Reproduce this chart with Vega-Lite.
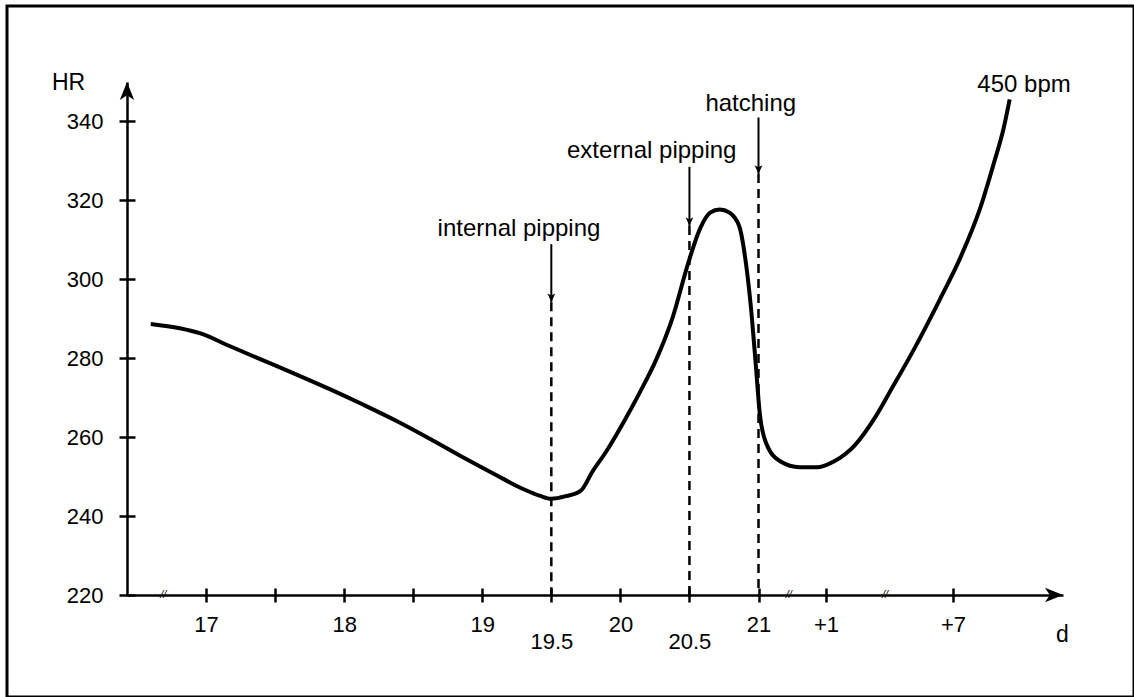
{
  "$schema": "https://vega.github.io/schema/vega-lite/v6.json",
  "width": 1127,
  "height": 691,
  "autosize": {"type": "none"},
  "padding": {"left": 7, "top": 6, "right": 0, "bottom": 0},
  "background": "white",
  "config": {
    "view": {"stroke": "black", "strokeWidth": 3},
    "font": "Liberation Sans",
    "text": {"font": "Liberation Sans", "color": "black"}
  },
  "datasets": {
    "curve": [
      {"day": 16.60, "hr": 288.7}, {"day": 16.81, "hr": 287.6}, {"day": 16.96, "hr": 286.3},
      {"day": 17.17, "hr": 283.1}, {"day": 17.41, "hr": 279.5}, {"day": 17.66, "hr": 275.8},
      {"day": 17.90, "hr": 272.1}, {"day": 18.14, "hr": 268.2}, {"day": 18.38, "hr": 264.1},
      {"day": 18.62, "hr": 259.6}, {"day": 18.86, "hr": 254.9}, {"day": 19.10, "hr": 250.4},
      {"day": 19.30, "hr": 246.8}, {"day": 19.42, "hr": 245.1}, {"day": 19.50, "hr": 244.4},
      {"day": 19.61, "hr": 245.1}, {"day": 19.71, "hr": 246.3}, {"day": 19.80, "hr": 251.4},
      {"day": 19.90, "hr": 256.5}, {"day": 20.02, "hr": 263.6}, {"day": 20.14, "hr": 271.3},
      {"day": 20.26, "hr": 279.7}, {"day": 20.38, "hr": 290.5}, {"day": 20.49, "hr": 304.0},
      {"day": 20.58, "hr": 313.1}, {"day": 20.65, "hr": 316.9}, {"day": 20.72, "hr": 317.7},
      {"day": 20.79, "hr": 316.9}, {"day": 20.86, "hr": 313.5}, {"day": 20.91, "hr": 303.8},
      {"day": 20.95, "hr": 291.1}, {"day": 20.98, "hr": 278.5}, {"day": 21.02, "hr": 265.8},
      {"day": 21.12, "hr": 258.2}, {"day": 21.32, "hr": 253.9}, {"day": 21.61, "hr": 252.4},
      {"day": 21.88, "hr": 252.4}, {"day": 22.43, "hr": 254.0}, {"day": 23.37, "hr": 258.0},
      {"day": 24.32, "hr": 265.0}, {"day": 25.02, "hr": 271.5}, {"day": 26.13, "hr": 282.0},
      {"day": 27.39, "hr": 295.0}, {"day": 28.35, "hr": 305.5}, {"day": 29.29, "hr": 318.1},
      {"day": 29.92, "hr": 329.2}, {"day": 30.40, "hr": 338.4}, {"day": 30.68, "hr": 345.6}
    ],
    "events": [
      {"day": 19.5, "event": "internal pipping", "label_day": 19.266, "label_hr": 312.8, "shaft_top": 308.9, "tip": 294.2},
      {"day": 20.5, "event": "external pipping", "label_day": 20.227, "label_hr": 332.5, "shaft_top": 328.5, "tip": 313.5},
      {"day": 21, "event": "hatching", "label_day": 20.944, "label_hr": 344.4, "shaft_top": 341.0, "tip": 326.7}
    ],
    "breaks": [{"day": 16.69, "hr": 220}, {"day": 21.45, "hr": 220}, {"day": 24.79, "hr": 220}],
    "axisEnds": [{"day": 16.428, "hr": 350, "dir": "up"}, {"day": 33.2, "hr": 220, "dir": "right"}],
    "note": [{"day": 31.36, "hr": 349.3, "text": "450 bpm"}]
  },
  "layer": [
    {
      "data": {"name": "curve"},
      "mark": {"type": "line", "interpolate": "monotone", "color": "black", "strokeWidth": 4, "clip": false},
      "encoding": {
        "x": {
          "field": "day", "type": "quantitative",
          "scale": {"domain": [16.428, 21, 22, 33.2], "range": [120, 751.5, 819, 1056], "zero": false, "nice": false},
          "axis": {
            "values": [17, 17.5, 18, 18.5, 19, 19.5, 20, 20.5, 21, 22, 28],
            "format": ".1~f",
            "labelExpr": "(datum.value == 17.5 || datum.value == 18.5) ? '' : ((datum.value == 19.5 || datum.value == 20.5) ? ['', datum.label] : (datum.value > 21 ? '+' + (datum.value - 21) : datum.label))",
            "offset": -102,
            "grid": false,
            "domainColor": "black", "domainWidth": 2.5,
            "tickColor": "black", "tickWidth": 2.5, "tickSize": 6,
            "labelFontSize": 22, "labelColor": "black", "labelPadding": 13,
            "labelLineHeight": 17, "labelFlush": false, "labelOverlap": false, "labelBound": false,
            "labelFont": "Liberation Sans",
            "title": "d", "titleX": 1055, "titleY": 39, "titleFontSize": 23, "titleFontWeight": "normal",
            "titleColor": "black", "titleAlign": "center", "titleBaseline": "middle", "titleFont": "Liberation Sans",
            "encoding": {"ticks": {"y": {"value": -7}, "y2": {"value": 7}}}
          }
        },
        "y": {
          "field": "hr", "type": "quantitative",
          "scale": {"domain": [220, 350], "range": [589, 76], "zero": false, "nice": false},
          "axis": {
            "values": [220, 240, 260, 280, 300, 320, 340],
            "offset": -120,
            "grid": false,
            "domainColor": "black", "domainWidth": 2.5,
            "tickColor": "black", "tickWidth": 2.5, "tickSize": 8,
            "labelFontSize": 22, "labelColor": "black", "labelPadding": 16,
            "labelFlush": false, "labelOverlap": false, "labelBound": false,
            "labelFont": "Liberation Sans",
            "title": "HR", "titleAngle": 0, "titleX": -59, "titleY": 76, "titleFontSize": 23,
            "titleFontWeight": "normal", "titleColor": "black", "titleAlign": "center", "titleBaseline": "middle",
            "titleFont": "Liberation Sans",
            "encoding": {"ticks": {"x": {"value": -8}, "x2": {"value": 8}}}
          }
        }
      }
    },
    {
      "data": {"name": "events"},
      "mark": {"type": "rule", "color": "black", "strokeWidth": 2.5, "strokeDash": [9, 6], "clip": false},
      "encoding": {
        "x": {"field": "day", "type": "quantitative"},
        "y": {"field": "tip", "type": "quantitative"},
        "y2": {"datum": 220}
      }
    },
    {
      "data": {"name": "events"},
      "mark": {"type": "rule", "color": "black", "strokeWidth": 2, "clip": false},
      "encoding": {
        "x": {"field": "day", "type": "quantitative"},
        "y": {"field": "shaft_top", "type": "quantitative"},
        "y2": {"field": "tip"}
      }
    },
    {
      "data": {"name": "events"},
      "mark": {"type": "point", "shape": "M0,0L-0.7,-1.6L0,-1.2L0.7,-1.6Z", "filled": true, "color": "black", "size": 121, "opacity": 1, "clip": false},
      "encoding": {
        "x": {"field": "day", "type": "quantitative"},
        "y": {"field": "tip", "type": "quantitative"}
      }
    },
    {
      "data": {"name": "events"},
      "mark": {"type": "text", "fontSize": 24, "align": "center", "baseline": "middle", "color": "black", "clip": false},
      "encoding": {
        "x": {"field": "label_day", "type": "quantitative"},
        "y": {"field": "label_hr", "type": "quantitative"},
        "text": {"field": "event"}
      }
    },
    {
      "data": {"name": "note"},
      "mark": {"type": "text", "fontSize": 24, "align": "center", "baseline": "middle", "color": "black", "clip": false},
      "encoding": {
        "x": {"field": "day", "type": "quantitative"},
        "y": {"field": "hr", "type": "quantitative"},
        "text": {"field": "text"}
      }
    },
    {
      "data": {"name": "breaks"},
      "mark": {"type": "text", "text": "//", "fontSize": 11, "fontStyle": "italic", "align": "center", "baseline": "middle", "color": "black", "clip": false},
      "encoding": {
        "x": {"field": "day", "type": "quantitative"},
        "y": {"field": "hr", "type": "quantitative"}
      }
    },
    {
      "data": {"name": "axisEnds"},
      "mark": {"type": "point", "filled": true, "color": "black", "size": 576, "opacity": 1, "clip": false},
      "encoding": {
        "x": {"field": "day", "type": "quantitative"},
        "y": {"field": "hr", "type": "quantitative"},
        "shape": {
          "field": "dir", "type": "nominal", "legend": null,
          "scale": {"domain": ["up", "right"], "range": ["M0,0L0.6,1.5L0,1.1L-0.6,1.5Z", "M0,0L-1.5,0.6L-1.1,0L-1.5,-0.6Z"]}
        }
      }
    }
  ]
}
